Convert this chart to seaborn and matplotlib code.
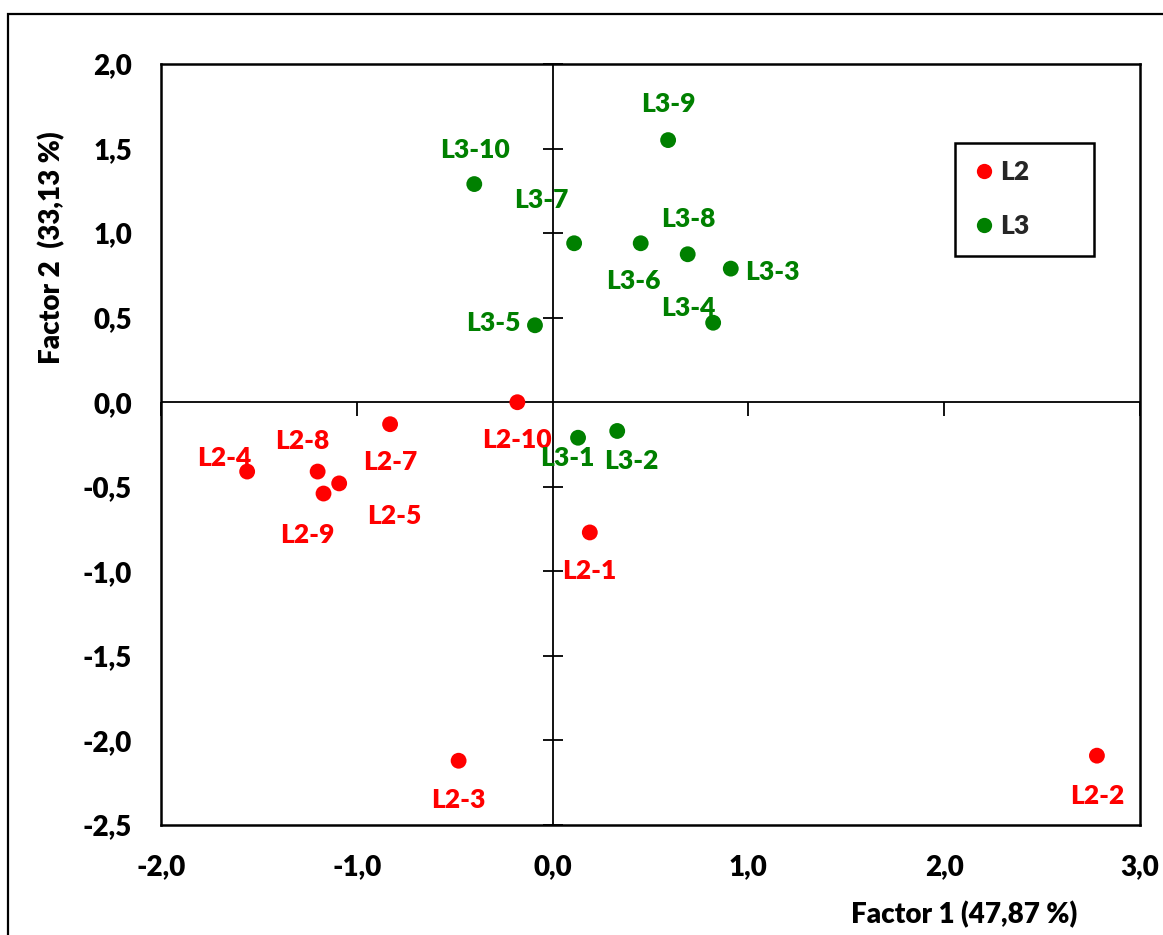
import matplotlib
matplotlib.use("Agg")
import matplotlib.pyplot as plt
from matplotlib.patches import Rectangle
from matplotlib.lines import Line2D
import seaborn as sns
import pandas as pd

# PCA scores of the samples on the first two factors
l2_names = ["L2-1", "L2-2", "L2-3", "L2-4", "L2-5", "L2-7", "L2-8", "L2-9", "L2-10"]
l2_f1 = [0.19, 2.78, -0.48, -1.56, -1.09, -0.83, -1.20, -1.17, -0.18]
l2_f2 = [-0.77, -2.09, -2.12, -0.41, -0.48, -0.13, -0.41, -0.54, 0.00]

l3_names = ["L3-1", "L3-2", "L3-3", "L3-4", "L3-5", "L3-6", "L3-7", "L3-8", "L3-9", "L3-10"]
l3_f1 = [0.13, 0.33, 0.91, 0.82, -0.09, 0.45, 0.11, 0.69, 0.59, -0.40]
l3_f2 = [-0.21, -0.17, 0.79, 0.47, 0.455, 0.94, 0.94, 0.875, 1.55, 1.29]

x_ticks = [-2.0, -1.0, 0.0, 1.0, 2.0, 3.0]
y_ticks = [-2.5, -2.0, -1.5, -1.0, -0.5, 0.0, 0.5, 1.0, 1.5, 2.0]

# label placement relative to each point, in pixels
label_offsets = {
    "L3-9": (0, 36), "L3-10": (1, 34), "L3-7": (-33, 43), "L3-8": (1, 35),
    "L3-3": (42, -3), "L3-6": (-7, -38), "L3-4": (-25, 15), "L3-5": (-42, 2),
    "L3-1": (-11, -20), "L3-2": (14, -30),
    "L2-10": (0, -38), "L2-7": (0, -38), "L2-8": (-15, 31), "L2-4": (-23, 14),
    "L2-5": (55, -33), "L2-9": (-16, -41), "L2-1": (0, -39), "L2-3": (0, -39),
    "L2-2": (0, -40),
}

df = pd.DataFrame({
    "name": l2_names + l3_names,
    "f1": l2_f1 + l3_f1,
    "f2": l2_f2 + l3_f2,
    "group": ["L2"] * len(l2_names) + ["L3"] * len(l3_names),
})
palette = {"L2": "#FF0000", "L3": "#008000"}

sns.set_theme(style="white")
plt.rcParams["font.family"] = ["Lato", "DejaVu Sans"]
WT = 800
plt.rcParams["font.weight"] = WT

FS = 19      # point labels and legend
FS_AX = 20   # tick labels and axis titles

fig = plt.figure(figsize=(11.63, 9.35), dpi=100)
W, H = 1163, 935
ax = fig.add_axes([161 / W, 1 - 825 / H, (1140 - 161) / W, (825 - 64) / H])

# outer border of the figure
fig.patches.append(Rectangle((8 / W, -0.05), 1.1, 1 - 14 / H + 0.05,
                             transform=fig.transFigure, fill=False,
                             edgecolor="black", linewidth=1.6, clip_on=False))

ax.axhline(0, color="black", linewidth=1.3, zorder=1)
ax.axvline(0, color="black", linewidth=1.3, zorder=1)

# tick marks on the zero lines
yt = [v for v in y_ticks if v != 0]
xt = [v for v in x_ticks if v != 0]
ax.plot([0] * len(yt), yt, linestyle="none", marker="_", markersize=14,
        markeredgewidth=1.3, color="black", zorder=1, clip_on=False)
ax.plot(xt, [0] * len(xt), linestyle="none", marker=3, markersize=10,
        markeredgewidth=1.3, color="black", zorder=1, clip_on=False)

sns.scatterplot(data=df, x="f1", y="f2", hue="group", palette=palette,
                s=130, linewidth=0, ax=ax, legend=False, zorder=3)

for name, x, y, g in zip(df["name"], df["f1"], df["f2"], df["group"]):
    dx, dy = label_offsets[name]
    ax.annotate(name, (x, y), xytext=(dx, dy), textcoords="offset pixels",
                ha="center", va="center", color=palette[g],
                fontsize=FS, fontweight=WT, zorder=4)

ax.set_xlim(-2.0, 3.0)
ax.set_ylim(-2.5, 2.0)
ax.set_xticks(x_ticks)
ax.set_yticks(y_ticks)
ax.set_xticklabels([f"{v:.1f}".replace(".", ",") for v in x_ticks])
ax.set_yticklabels([f"{v:.1f}".replace(".", ",") for v in y_ticks])
ax.tick_params(axis="both", length=0, labelsize=FS_AX, colors="black")
ax.tick_params(axis="x", pad=21)
ax.tick_params(axis="y", pad=21)
for lbl in ax.get_xticklabels() + ax.get_yticklabels():
    lbl.set_fontweight(WT)
ax.set_xlabel("")
ax.set_ylabel("")
for sp in ax.spines.values():
    sp.set_visible(True)
    sp.set_color("black")
    sp.set_linewidth(1.8)

fig.text(1077 / W, 1 - 915 / H, "Factor 1 (47,87 %)", ha="right", va="center",
         fontsize=FS_AX, fontweight=WT, color="black")
fig.text(52 / W, 1 - 248 / H, "Factor 2  (33,13 %)", ha="center", va="center",
         rotation=90, fontsize=FS_AX, fontweight=WT, color="black")

handles = [Line2D([], [], linestyle="none", marker="o", markersize=11,
                  markerfacecolor=palette[k], markeredgewidth=0, label=k)
           for k in ["L2", "L3"]]
aw, ah = 1140 - 161, 825 - 64
leg = ax.legend(handles=handles, loc="upper left", mode="expand",
                bbox_to_anchor=((955 - 161) / aw, (825 - 251) / ah,
                                (1094 - 955) / aw, (251 - 143) / ah),
                frameon=True, fancybox=False, framealpha=1, edgecolor="black",
                prop={"size": FS, "weight": WT}, handletextpad=0.15,
                labelspacing=1.15, borderpad=0.65, handlelength=0.9,
                borderaxespad=0)
leg.get_frame().set_linewidth(1.8)

fig.savefig("out.png", dpi=100)
